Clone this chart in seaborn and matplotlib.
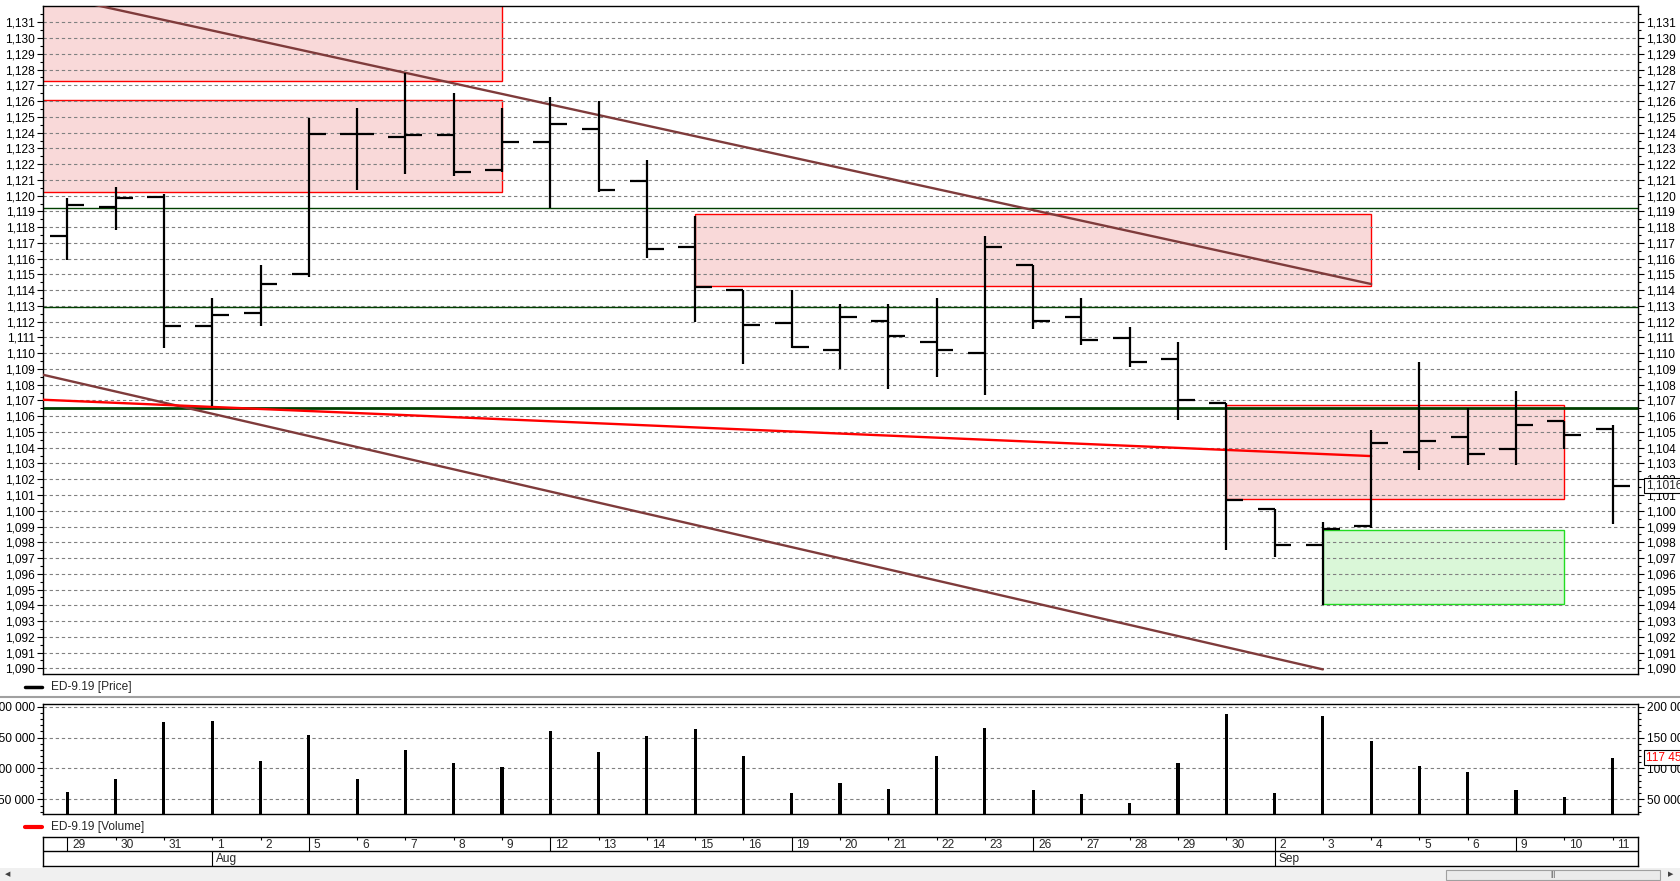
import numpy as np
import matplotlib
matplotlib.use("Agg")
import matplotlib.pyplot as plt
import matplotlib.transforms as mtransforms
from matplotlib.patches import Rectangle
from matplotlib.lines import Line2D
from matplotlib.ticker import FixedLocator, FuncFormatter
import seaborn as sns

# ---- data (ED-9.19, daily bars Jul 29 .. Sep 11) ----
day_labels = ["29", "30", "31", "1", "2", "5", "6", "7", "8", "9", "12", "13", "14", "15", "16",
              "19", "20", "21", "22", "23", "26", "27", "28", "29", "30", "2", "3", "4", "5", "6",
              "9", "10", "11"]
week_starts = [0, 5, 10, 15, 20, 25, 30]
month_starts = [3, 25]
month_names = ["Aug", "Sep"]

opens = [1.11746, 1.11925, 1.11993, 1.11174, 1.11257, 1.11502, 1.12391, 1.12374, 1.12385, 1.12162,
         1.12340, 1.12425, 1.12095, 1.11676, 1.11403, 1.11193, 1.11020, 1.11206, 1.11072, 1.11003,
         1.11561, 1.11231, 1.11094, 1.10962, 1.10687, 1.10010, 1.09782, 1.09905, 1.10372, 1.10469,
         1.10393, 1.10571, 1.10518]
highs = [1.11983, 1.12052, 1.12008, 1.11348, 1.11557, 1.12490, 1.12554, 1.12780, 1.12649, 1.12554,
         1.12628, 1.12601, 1.12224, 1.11870, 1.11403, 1.11401, 1.11312, 1.11312, 1.11348, 1.11743,
         1.11561, 1.11348, 1.11168, 1.11068, 1.10687, 1.10010, 1.09926, 1.10512, 1.10943, 1.10654,
         1.10759, 1.10571, 1.10544]
lows = [1.11589, 1.11779, 1.11030, 1.10664, 1.11174, 1.11481, 1.12035, 1.12139, 1.12126, 1.12148,
        1.11919, 1.12021, 1.11606, 1.11199, 1.10929, 1.11035, 1.10897, 1.10770, 1.10846, 1.10732,
        1.11153, 1.11051, 1.10910, 1.10579, 1.09754, 1.09708, 1.09401, 1.09888, 1.10256, 1.10288,
        1.10288, 1.10389, 1.09919]
closes = [1.11942, 1.11985, 1.11174, 1.11244, 1.11439, 1.12391, 1.12391, 1.12385, 1.12150, 1.12340,
          1.12455, 1.12035, 1.11663, 1.11422, 1.11180, 1.11041, 1.11231, 1.11108, 1.11020, 1.11674,
          1.11206, 1.11083, 1.10946, 1.10702, 1.10067, 1.09782, 1.09881, 1.10429, 1.10444, 1.10359,
          1.10544, 1.10480, 1.10160]
volumes = [61300, 82800, 175800, 177400, 111300, 154800, 82800, 129600, 108100, 103200,
           160200, 127400, 153200, 164500, 121000, 60200, 75800, 66100, 119400, 166100,
           64500, 58600, 43500, 108100, 188700, 59700, 185500, 144100, 104800, 93500,
           64500, 53800, 117450]

# drawn objects: zones (x0, x1, y0, y1) and trend lines ((x0, y0), (x1, y1))
red_zones = [(-2, 9, 1.12728, 1.1400), (-2, 9, 1.12021, 1.12605),
             (13, 27, 1.11426, 1.11881), (24, 31, 1.10072, 1.10673)]
green_zones = [(26, 31, 1.09409, 1.09877)]
brown_lines = [((0, 1.13249), (27, 1.11439)), ((-1, 1.10898), (26, 1.08993))]
red_line = ((-1, 1.10711), (27, 1.10347))
levels = [1.11919, 1.11295, 1.10654]
level_widths = [1.0, 1.0, 2.0]

last_price = 1.1016
last_volume = 117450

# ---- style ----
sns.set_theme(style="ticks")
plt.rcParams["font.family"] = ["Liberation Sans", "DejaVu Sans"]
plt.rcParams["font.size"] = 8.6
FS = 8.6

W, H = 1680, 881
fig = plt.figure(figsize=(W / 100, H / 100), dpi=100)
fig.patch.set_facecolor("white")


def frac(left, top, right, bottom):
    return [left / W, 1 - bottom / H, (right - left) / W, (bottom - top) / H]


x_left, x_right = 43.2, 1638.2
ax = fig.add_axes(frac(x_left, 6.0, x_right, 674.3))
axv = fig.add_axes(frac(x_left, 704.3, x_right, 814.0))
axd = fig.add_axes(frac(x_left, 836.5, x_right, 866.0))

idx = np.arange(len(opens))
xlim = (-0.5, 32.53)
grid_kw = dict(color="#808080", linestyle=(0, (3, 2.5)), linewidth=0.8)

# ---- price panel ----
for x0, x1, y0, y1 in red_zones:
    ax.add_patch(Rectangle((x0, y0), x1 - x0, y1 - y0, facecolor="#F9D9D9",
                           edgecolor="#FF0000", linewidth=1.0, zorder=1))
for x0, x1, y0, y1 in green_zones:
    ax.add_patch(Rectangle((x0, y0), x1 - x0, y1 - y0, facecolor="#DAF7D8",
                           edgecolor="#22DD22", linewidth=1.0, zorder=1))

for lvl, lw in zip(levels, level_widths):
    ax.axhline(lvl, color="#004000", linewidth=lw, zorder=2)

for (x0, y0), (x1, y1) in brown_lines:
    ax.plot([x0, x1], [y0, y1], color="#7F3B3B", linewidth=1.7, zorder=3)
ax.plot([red_line[0][0], red_line[1][0]], [red_line[0][1], red_line[1][1]],
        color="#FF0000", linewidth=1.7, zorder=3)

tick = 0.35
ax.vlines(idx, lows, highs, color="black", linewidth=1.6, zorder=4)
ax.hlines(opens, idx - tick, idx, color="black", linewidth=1.6, zorder=4)
ax.hlines(closes, idx, idx + tick, color="black", linewidth=1.6, zorder=4)

ax.set_xlim(*xlim)
ax.set_ylim(1.089619, 1.132037)
ax.yaxis.set_major_locator(FixedLocator(np.round(np.arange(1.090, 1.1315, 0.001), 3)))
ax.yaxis.set_minor_locator(FixedLocator(np.round(np.arange(1.0895, 1.1320, 0.001), 4)))
ax.yaxis.set_major_formatter(FuncFormatter(lambda v, p: f"{v:.3f}".replace(".", ",")))
ax.set_xticks([])
ax.grid(axis="y", which="major", **grid_kw)
ax.set_axisbelow("line")
ax.tick_params(axis="y", which="both", left=True, right=True, labelleft=True, labelright=True,
               direction="out", colors="black", labelsize=FS, pad=1.5)
ax.tick_params(axis="y", which="major", length=4.5, width=0.8)
ax.tick_params(axis="y", which="minor", length=2.5, width=0.8)

trans_p = mtransforms.blended_transform_factory(ax.transAxes, ax.transData)
ax.annotate(f"{last_price:.4f}".replace(".", ","), xy=(1, last_price), xycoords=trans_p,
            xytext=(8, 0), textcoords="offset pixels", va="center", ha="left", fontsize=FS,
            annotation_clip=False, zorder=10,
            bbox=dict(boxstyle="square,pad=0.15", facecolor="white", edgecolor="black", linewidth=0.8))

# ---- volume panel ----
sns.barplot(x=idx, y=volumes, color="black", width=0.065, saturation=1, linewidth=0,
            errorbar=None, ax=axv, zorder=4)
axv.set_xlim(*xlim)
axv.set_ylim(26300, 203900)
axv.set_xlabel("")
axv.set_ylabel("")
axv.set_xticks([])
axv.yaxis.set_major_locator(FixedLocator([50000, 100000, 150000, 200000]))
axv.yaxis.set_minor_locator(FixedLocator(np.arange(30000, 205000, 10000)))
axv.yaxis.set_major_formatter(FuncFormatter(lambda v, p: f"{v:,.0f}".replace(",", " ")))
axv.grid(axis="y", which="major", **grid_kw)
axv.set_axisbelow("line")
axv.tick_params(axis="y", which="both", left=True, right=True, labelleft=True, labelright=True,
                direction="out", colors="black", labelsize=FS, pad=1.5)
axv.tick_params(axis="y", which="major", length=4.5, width=0.8)
axv.tick_params(axis="y", which="minor", length=2.5, width=0.8)

trans_v = mtransforms.blended_transform_factory(axv.transAxes, axv.transData)
axv.annotate(f"{last_volume:,.0f}".replace(",", " "), xy=(1, last_volume), xycoords=trans_v,
             xytext=(8, 0), textcoords="offset pixels", va="center", ha="left", fontsize=FS,
             color="#FF0000", annotation_clip=False, zorder=10,
             bbox=dict(boxstyle="square,pad=0.15", facecolor="white", edgecolor="black", linewidth=0.8))

# ---- date axis ----
axd.set_xlim(*xlim)
axd.set_ylim(0, 2)
axd.set_xticks([])
axd.set_yticks([])
axd.axhline(1, color="black", linewidth=1.0)
short = [i for i in idx if i not in week_starts]
axd.vlines(short, 1.78, 2, color="black", linewidth=0.8)
axd.vlines(week_starts, 1, 2, color="black", linewidth=0.8)
axd.vlines(month_starts, 0, 1, color="black", linewidth=0.8)
for i, lab in zip(idx, day_labels):
    axd.text(i + 0.1, 1.45, lab, ha="left", va="center", fontsize=FS)
for i, lab in zip(month_starts, month_names):
    axd.text(i + 0.08, 0.45, lab, ha="left", va="center", fontsize=FS)

for a in (ax, axv, axd):
    for s in a.spines.values():
        s.set_color("black")
        s.set_linewidth(1.0)

# ---- legends, splitter, scrollbar ----
def fy(y):
    return 1 - y / H

fig.add_artist(Line2D([25 / W, 42 / W], [fy(687), fy(687)], color="black", linewidth=2.5))
fig.text(51 / W, fy(687), "ED-9.19 [Price]", va="center", ha="left", fontsize=FS)
fig.add_artist(Line2D([25 / W, 42 / W], [fy(827), fy(827)], color="#FF0000", linewidth=3))
fig.text(51 / W, fy(827), "ED-9.19 [Volume]", va="center", ha="left", fontsize=FS)
fig.add_artist(Line2D([0, 1], [fy(696.7), fy(696.7)], color="#A0A0A0", linewidth=1.5))

fig.add_artist(Rectangle((0, 0), 1, 13 / H, transform=fig.transFigure,
                         facecolor="#F0F0F0", edgecolor="none"))
fig.add_artist(Rectangle((1446 / W, 1.5 / H), (1660 - 1446) / W, 10 / H, transform=fig.transFigure,
                         facecolor="#EBEBEB", edgecolor="#A0A0A0", linewidth=0.8))
fig.text(1553 / W, fy(875), "|||", ha="center", va="center", fontsize=5, color="#606060")
fig.text(8 / W, fy(875), "◀", ha="center", va="center", fontsize=5, color="#404040")
fig.text(1671 / W, fy(875), "▶", ha="center", va="center", fontsize=5, color="#404040")

fig.savefig("out.png", dpi=100)
